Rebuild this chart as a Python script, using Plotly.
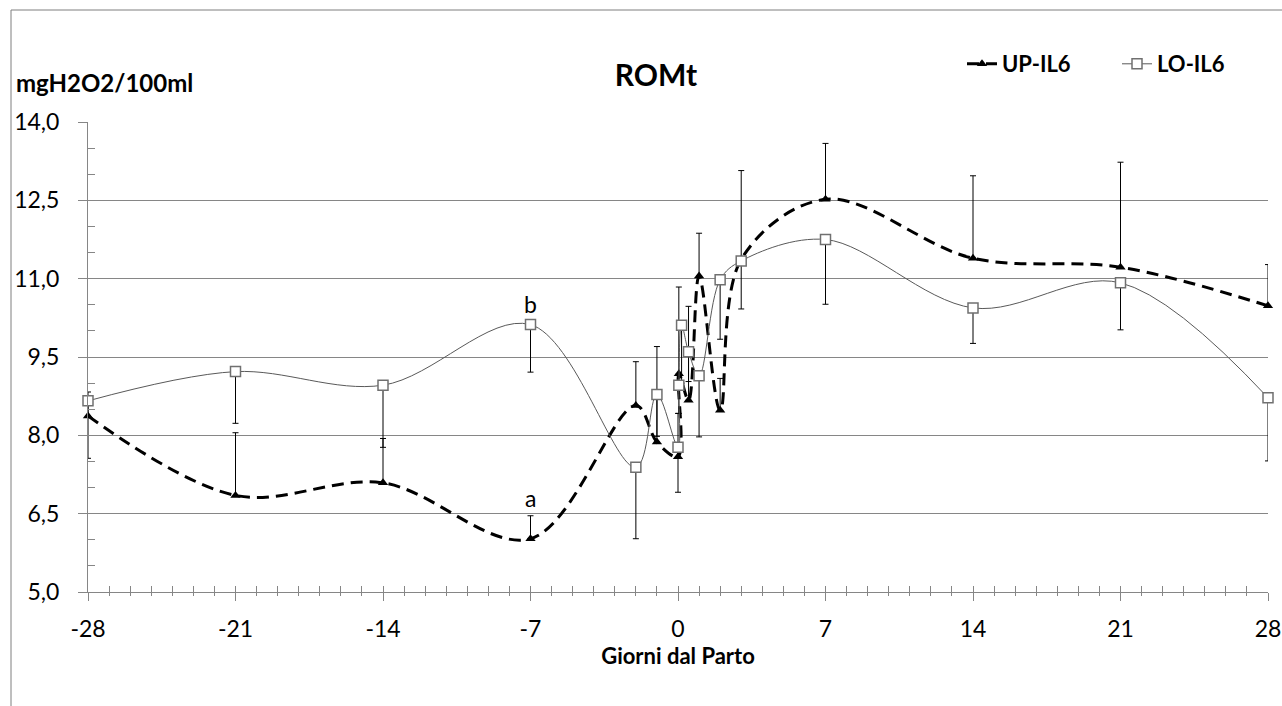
import plotly.graph_objects as go

# Sampling days relative to calving (Giorni dal Parto)
days_up = [-28, -21, -14, -7, -2, -1, 0, 0.04, 0.5, 1, 2, 3, 7, 14, 21, 28]
days_lo = [-28, -21, -14, -7, -2, -1, 0, 0.04, 0.17, 0.5, 1, 2, 3, 7, 14, 21, 28]

# ROMt means (mgH2O2/100ml) and standard errors
up_il6 = [8.37, 6.85, 7.09, 6.02, 8.57, 7.87, 7.59, 9.18, 8.67, 11.05, 8.48, 11.37, 12.52, 11.39, 11.22, 10.48]
up_err = [0.46, 1.20, 0.85, 0.44, 0.84, 1.83, 0.83, 1.66, 1.80, 0.82, 0.61, 1.70, 1.07, 1.58, 2.01, 0.79]
lo_il6 = [8.66, 9.22, 8.96, 10.12, 7.39, 8.78, 7.77, 8.96, 10.11, 9.60, 9.14, 10.98, 11.34, 11.75, 10.44, 10.92, 8.72]
lo_err = [1.10, 0.99, 1.19, 0.91, 1.37, 0.80, 0.86, 0.54, 1.11, 0.57, 1.17, 1.14, 0.92, 1.24, 0.68, 0.90, 1.21]

x_ticks = [-28, -21, -14, -7, 0, 7, 14, 21, 28]
x_tick_text = ["-28", "-21", "-14", "-7", "0", "7", "14", "21", "28"]
y_ticks = [5.0, 6.5, 8.0, 9.5, 11.0, 12.5, 14.0]

W, H = 1282, 706
L, R, T, B = 88, 14, 122, 114
PW, PH = W - L - R, H - T - B


def px_x(p):
    return (p - L) / PW


def px_y(p):
    return (H - B - p) / PH


FONT = "Lato, Carlito, Calibri, sans-serif"
AX_COL = "#868686"

fig = go.Figure()

fig.add_trace(go.Scatter(
    x=days_up, y=up_il6, name="UP-IL6", mode="lines+markers",
    line=dict(color="black", width=3, dash="12px,7px", shape="spline", smoothing=1),
    marker=dict(symbol="triangle-up", size=9, color="black"),
    error_y=dict(type="data", symmetric=False, array=up_err,
                 arrayminus=[0] * len(up_err), color="black", thickness=1, width=3),
    cliponaxis=False,
))

fig.add_trace(go.Scatter(
    x=days_lo, y=lo_il6, name="LO-IL6", mode="lines+markers",
    line=dict(color="#595959", width=1, shape="spline", smoothing=1),
    marker=dict(symbol="square", size=10, color="white",
                line=dict(color="#707070", width=1.5)),
    error_y=dict(type="data", symmetric=False, array=[0] * len(lo_err),
                 arrayminus=lo_err, color="black", thickness=1, width=3),
    cliponaxis=False,
))

# empty trace that carries the overlay axes used for inner tick marks
fig.add_trace(go.Scatter(x=[], y=[], xaxis="x2", yaxis="y2", showlegend=False,
                         hoverinfo="skip"))

i7u = days_up.index(-7)
i7l = days_lo.index(-7)

fig.update_layout(
    width=W, height=H,
    margin=dict(l=L, r=R, t=T, b=B, autoexpand=False),
    paper_bgcolor="white", plot_bgcolor="white",
    separators=",.",
    font=dict(family=FONT, color="black"),
    title=dict(text="ROMt", x=656 / W, y=1 - 75 / H, xanchor="center", yanchor="middle",
               font=dict(family=FONT, size=30, weight="bold", color="black")),
    xaxis=dict(
        range=[-28, 28], tickvals=x_ticks, ticktext=x_tick_text,
        showgrid=False, zeroline=False,
        showline=True, linecolor=AX_COL, linewidth=1,
        ticks="outside", ticklen=8, tickcolor=AX_COL, tickwidth=1,
        minor=dict(dtick=1, tick0=0, ticks="outside", ticklen=3, tickcolor=AX_COL, showgrid=False),
        tickfont=dict(family=FONT, size=23, color="black"),
        ticklabelstandoff=8,
        title=dict(text="Giorni dal Parto", standoff=8,
                   font=dict(family=FONT, size=22, weight="bold", color="black")),
    ),
    yaxis=dict(
        range=[5, 14], tickvals=y_ticks, tickformat=".1f",
        showgrid=True, gridcolor=AX_COL, gridwidth=1, zeroline=False,
        showline=True, linecolor=AX_COL, linewidth=1,
        ticks="outside", ticklen=9, tickcolor=AX_COL, tickwidth=1,
        tickfont=dict(family=FONT, size=23, color="black"),
        ticklabelstandoff=14,
    ),
    xaxis2=dict(
        overlaying="x", anchor="y2", range=[-28, 28], tickvals=x_ticks,
        showticklabels=False, showgrid=False, zeroline=False, showline=False,
        ticks="inside", ticklen=6, tickcolor=AX_COL,
        minor=dict(dtick=1, tick0=0, ticks="inside", ticklen=6, tickcolor=AX_COL, showgrid=False),
    ),
    yaxis2=dict(
        overlaying="y", anchor="x2", range=[5, 14], tickvals=y_ticks,
        showticklabels=False, showgrid=False, zeroline=False, showline=False,
        ticks="inside", ticklen=7, tickcolor=AX_COL,
        minor=dict(dtick=0.5, tick0=5, ticks="inside", ticklen=7, tickcolor=AX_COL, showgrid=False),
    ),
    legend=dict(
        orientation="h", x=px_x(962), y=px_y(64), xanchor="left", yanchor="middle",
        font=dict(family=FONT, size=22, weight="bold", color="black"),
        bgcolor="rgba(0,0,0,0)", entrywidth=110, entrywidthmode="pixels",
        itemwidth=30,
    ),
    showlegend=True,
    annotations=[
        dict(text="mgH2O2/100ml", x=px_x(14), y=px_y(82), xref="paper", yref="paper",
             xanchor="left", yanchor="middle", showarrow=False,
             font=dict(family=FONT, size=24, weight="bold", color="black")),
        dict(text="a", x=-7, y=up_il6[i7u] + up_err[i7u], xref="x", yref="y",
             yanchor="bottom", yshift=2, showarrow=False,
             font=dict(family=FONT, size=23, color="black")),
        dict(text="b", x=-7, y=lo_il6[i7l], xref="x", yref="y",
             yanchor="bottom", yshift=5, showarrow=False,
             font=dict(family=FONT, size=23, color="black")),
    ],
    shapes=[
        dict(type="rect", xref="paper", yref="paper",
             x0=px_x(11), x1=px_x(W + 20), y0=px_y(H + 20), y1=px_y(10),
             line=dict(color="#7f7f7f", width=1), fillcolor="rgba(0,0,0,0)", layer="below"),
    ],
)

fig.write_html("out.html")
